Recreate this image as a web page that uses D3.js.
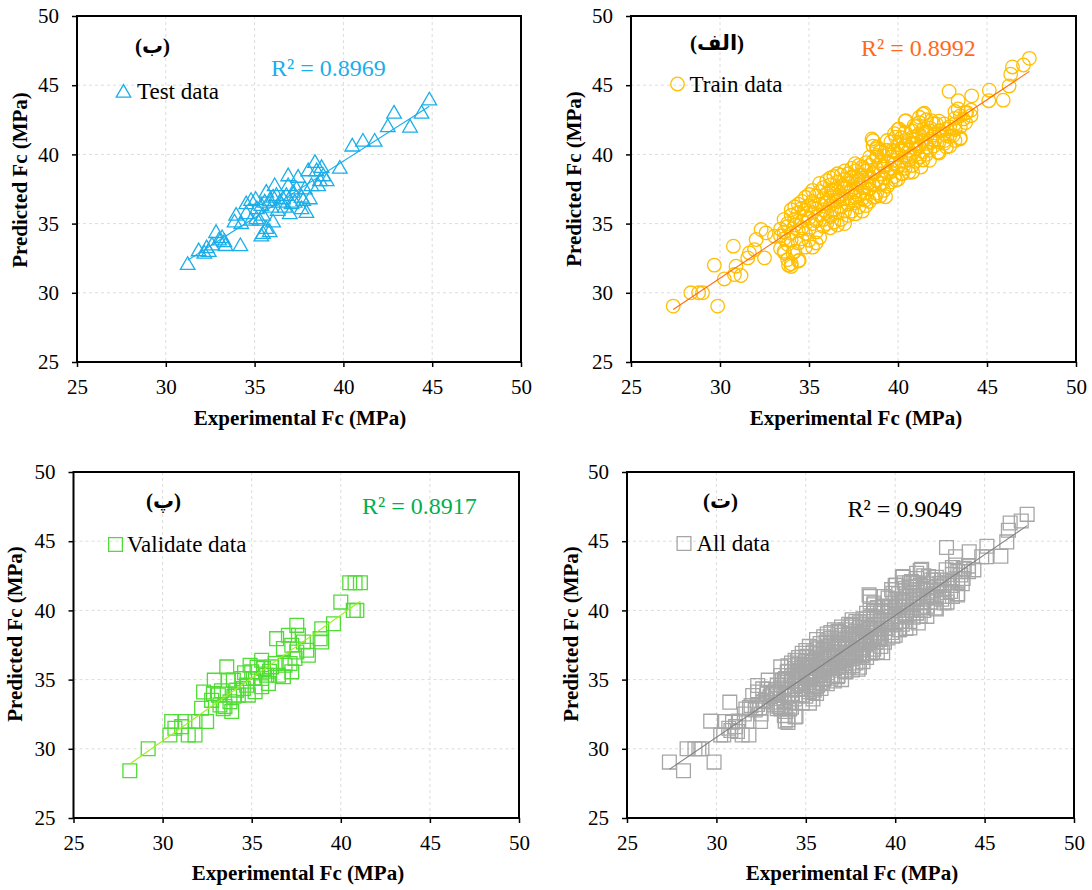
<!DOCTYPE html>
<html>
<head>
<meta charset="utf-8">
<script src="https://cdn.jsdelivr.net/npm/d3@7"></script>
<style>
  body { margin: 0; background: #fff; }
  svg { display: block; }
  text { font-family: 'Liberation Serif', 'Times New Roman', 'DejaVu Sans', serif; }
</style>
</head>
<body>
<svg id="chart" width="1092" height="890"></svg>
<script>
// axis ticks (same on every panel)
const xTicks = [25, 30, 35, 40, 45, 50];
const yTicks = [25, 30, 35, 40, 45, 50];
const gridTicks = [30, 35, 40, 45];

// [experimental, predicted]
const testPoints = [
  [31.23, 32.0], [31.85, 32.98], [32.17, 32.81], [32.42, 32.93], [32.3, 33.2], [32.6, 33.4],
  [32.83, 34.3], [33.0, 33.76], [33.17, 33.93], [33.36, 33.36], [33.3, 33.64], [34.2, 33.35],
  [33.96, 35.55], [33.87, 35.07], [34.25, 34.95], [34.53, 35.67], [34.8, 35.2], [35.06, 36.69],
  [35.13, 36.02], [35.38, 36.26], [35.47, 35.55], [35.28, 35.19], [35.66, 37.21], [35.57, 36.5],
  [35.85, 36.62], [36.04, 36.86], [36.23, 36.98], [36.42, 36.5], [35.66, 34.6], [35.85, 34.36],
  [35.47, 34.24], [35.38, 34.05], [36.04, 35.07], [36.89, 38.4], [36.89, 37.69], [36.79, 36.98],
  [36.7, 36.14], [36.98, 35.67], [37.45, 38.29], [37.36, 37.45], [37.26, 36.5], [37.64, 36.86],
  [37.74, 36.62], [37.83, 37.45], [37.92, 35.75], [38.11, 36.74], [38.02, 38.76], [38.4, 39.36],
  [38.49, 38.76], [38.77, 39.0], [38.87, 38.4], [38.68, 38.05], [39.06, 38.05], [38.58, 37.69],
  [39.8, 38.95], [40.5, 40.55], [41.1, 40.9], [41.76, 40.9], [42.5, 41.95], [42.85, 42.93],
  [43.75, 41.92], [44.4, 42.93], [44.84, 43.88], [34.53, 36.38], [34.8, 36.62], [35.1, 35.3],
  [36.3, 35.9], [36.6, 36.74], [37.08, 36.38], [37.17, 37.21], [37.64, 36.02], [38.2, 37.69],
  [36.13, 37.69], [35.94, 36.14]
];

const trainPoints = [
  // lower tail
  [27.37, 29.04], [28.36, 30.0], [28.8, 30.0], [29.02, 30.0], [29.87, 29.04], [29.68, 32.0],
  [30.24, 31.0], [30.81, 31.32], [30.9, 31.92], [31.18, 31.25], [30.75, 33.37], [31.56, 32.52],
  [31.65, 32.88], [31.94, 33.12], [32.03, 33.85], [32.5, 32.52], [32.31, 34.57], [32.59, 34.33],
  [33.06, 34.09], [33.85, 32.0], [34.0, 31.9], [34.45, 32.35], [33.63, 32.88], [34.1, 32.88],
  // dense band
  [33.4, 33.2], [33.4, 34.1], [33.4, 34.6],
  [33.6, 33.0], [33.6, 33.9], [33.6, 35.3], [33.6, 34.4],
  [33.8, 32.4], [33.8, 33.5], [33.8, 34.8], [33.8, 35.0],
  [34.0, 32.1], [34.0, 33.8], [34.0, 34.3], [34.0, 35.6], [34.0, 36.0],
  [34.2, 33.0], [34.2, 34.9], [34.2, 35.3], [34.2, 36.2],
  [34.4, 32.3], [34.4, 33.6], [34.4, 34.5], [34.4, 35.8], [34.4, 36.4],
  [34.6, 33.9], [34.6, 34.7], [34.6, 35.2], [34.6, 36.1], [34.6, 36.6],
  [34.8, 33.3], [34.8, 34.3], [34.8, 35.5], [34.8, 36.0], [34.8, 36.9],
  [35.0, 33.8], [35.0, 34.6], [35.0, 35.4], [35.0, 36.3], [35.0, 37.1],
  [35.2, 33.3], [35.2, 35.0], [35.2, 35.8], [35.2, 36.6], [35.2, 37.4],
  [35.4, 33.6], [35.4, 34.4], [35.4, 35.2], [35.4, 36.1], [35.4, 37.0],
  [35.6, 34.0], [35.6, 35.6], [35.6, 36.4], [35.6, 37.3], [35.6, 37.9],
  [35.8, 34.8], [35.8, 35.3], [35.8, 36.0], [35.8, 36.8], [35.8, 37.6],
  [36.0, 35.0], [36.0, 35.8], [36.0, 36.5], [36.0, 37.2], [36.0, 38.1],
  [36.2, 34.7], [36.2, 35.5], [36.2, 36.3], [36.2, 37.0], [36.2, 37.8], [36.2, 38.3],
  [36.4, 35.1], [36.4, 36.0], [36.4, 36.7], [36.4, 37.5], [36.4, 38.4],
  [36.6, 34.9], [36.6, 35.8], [36.6, 36.6], [36.6, 37.3], [36.6, 38.0], [36.6, 38.6],
  [36.8, 35.3], [36.8, 36.2], [36.8, 37.0], [36.8, 37.7], [36.8, 38.5],
  [37.0, 35.0], [37.0, 35.9], [37.0, 36.8], [37.0, 37.5], [37.0, 38.2], [37.0, 38.8],
  [37.2, 35.6], [37.2, 36.4], [37.2, 37.2], [37.2, 37.9], [37.2, 38.6],
  [37.4, 35.9], [37.4, 36.7], [37.4, 37.5], [37.4, 38.3], [37.4, 39.0],
  [37.6, 35.7], [37.6, 36.5], [37.6, 37.3], [37.6, 38.0], [37.6, 38.8],
  [37.8, 36.2], [37.8, 37.0], [37.8, 37.8], [37.8, 38.5], [37.8, 39.2],
  [38.0, 35.9], [38.0, 36.8], [38.0, 37.6], [38.0, 38.3], [38.0, 39.1],
  [38.2, 36.3], [38.2, 37.2], [38.2, 38.0], [38.2, 38.8], [38.2, 39.4],
  [38.4, 36.6], [38.4, 37.5], [38.4, 38.4], [38.4, 39.2], [38.4, 39.8],
  [38.6, 36.9], [38.6, 37.8], [38.6, 38.7], [38.6, 39.5], [38.6, 40.6], [38.6, 41.0],
  [38.8, 37.2], [38.8, 38.1], [38.8, 39.0], [38.8, 39.8], [38.8, 40.4],
  [39.0, 37.0], [39.0, 37.9], [39.0, 38.6], [39.0, 39.4], [39.0, 40.2],
  [39.2, 37.4], [39.2, 38.3], [39.2, 39.1], [39.2, 39.9],
  [39.4, 37.7], [39.4, 38.7], [39.4, 39.5], [39.4, 40.3],
  [39.6, 38.0], [39.6, 39.0], [39.6, 39.8], [39.6, 40.9],
  [39.8, 38.4], [39.8, 39.3], [39.8, 40.2], [39.8, 41.5],
  [40.0, 38.2], [40.0, 39.1], [40.0, 40.0], [40.0, 40.7], [40.0, 41.8],
  [40.2, 38.6], [40.2, 39.5], [40.2, 40.4], [40.2, 41.2],
  [40.4, 39.0], [40.4, 39.8], [40.4, 40.6], [40.4, 41.6], [40.4, 42.4],
  [40.6, 38.7], [40.6, 39.6], [40.6, 40.3], [40.6, 41.0],
  [40.8, 39.2], [40.8, 40.0], [40.8, 40.8], [40.8, 41.7],
  [41.0, 39.5], [41.0, 40.4], [41.0, 41.3], [41.0, 42.0],
  [41.2, 39.8], [41.2, 40.6], [41.2, 41.5], [41.2, 42.3],
  [41.4, 39.6], [41.4, 40.2], [41.4, 41.0], [41.4, 41.8], [41.4, 42.9],
  [41.6, 40.0], [41.6, 40.8], [41.6, 41.6], [41.6, 42.5],
  [41.8, 40.3], [41.8, 41.1], [41.8, 41.9],
  [42.0, 40.6], [42.0, 41.4], [42.0, 42.2],
  [42.3, 40.1], [42.3, 40.9], [42.3, 41.7], [42.3, 42.4],
  [42.6, 40.8], [42.6, 41.5], [42.6, 42.2],
  [42.9, 40.6], [42.9, 41.3], [42.9, 42.0],
  [43.2, 41.0], [43.2, 41.8], [43.2, 42.6], [43.2, 43.1],
  [43.5, 41.2], [43.5, 42.0], [43.5, 42.8],
  [43.8, 42.3], [43.8, 43.0], [44.1, 42.8], [44.1, 43.2],
  // upper part
  [47.38, 46.94], [47.05, 46.46], [46.43, 46.32], [46.33, 45.79], [46.24, 44.95], [45.91, 43.92],
  [45.13, 44.64], [45.1, 43.88], [44.14, 44.23], [43.38, 43.88], [43.38, 43.28], [42.87, 44.55],
  [43.86, 43.04], [43.67, 42.56], [43.19, 42.2], [42.72, 41.84], [43.48, 41.12], [43.1, 41.36],
  [41.48, 42.97], [41.86, 42.44], [42.15, 42.2], [42.34, 41.72], [41.2, 42.68], [40.44, 42.44],
  [40.06, 41.84], [39.87, 41.24], [40.91, 42.08], [40.82, 41.24], [41.39, 41.48], [41.77, 41.72],
  [42.05, 41.0], [42.62, 41.0], [42.72, 40.53], [42.24, 40.17], [41.58, 40.53], [41.01, 40.77],
  [40.44, 40.77], [40.25, 40.29], [40.63, 39.81], [41.2, 39.81], [41.77, 39.57], [41.29, 39.09],
  [40.82, 38.73], [40.34, 39.21], [38.54, 41.12], [38.82, 40.53], [38.82, 39.93], [39.39, 41.0],
  [39.3, 40.29], [39.68, 40.29], [39.77, 39.57], [39.2, 39.21], [38.63, 38.61], [38.06, 38.97],
  [37.59, 39.33], [38.35, 37.9], [39.11, 37.9], [39.87, 38.13], [40.25, 38.61], [39.58, 38.73],
  [37.78, 38.13], [37.4, 38.37], [37.02, 37.66], [36.65, 36.94], [36.27, 37.42], [35.87, 36.47],
  [38.73, 36.94], [39.3, 36.94], [38.16, 36.7], [37.59, 36.94]
];

const validatePoints = [
  [28.16, 28.42], [29.19, 30.0], [30.41, 31.0], [30.51, 31.97], [30.69, 31.49], [31.07, 31.6],
  [31.25, 31.97], [31.44, 31.0], [31.82, 31.0], [31.82, 31.97], [32.47, 31.97], [32.19, 32.93],
  [32.85, 34.0], [32.9, 34.96], [33.13, 33.88], [33.22, 33.17], [33.5, 33.05], [33.6, 35.92],
  [33.88, 32.69], [33.78, 33.4], [33.69, 34.96], [33.97, 34.96], [34.16, 34.24], [34.25, 33.88],
  [34.44, 35.08], [34.53, 34.36], [34.72, 34.6], [34.91, 36.04], [35.0, 35.56], [35.09, 35.08],
  [35.19, 34.12], [34.81, 33.88], [35.56, 36.4], [35.66, 35.8], [35.56, 35.08], [35.56, 34.48],
  [35.84, 35.32], [35.94, 34.72], [36.12, 35.92], [36.31, 36.16], [36.5, 35.32], [36.78, 35.2],
  [36.87, 36.04], [36.4, 37.96], [36.78, 37.24], [37.06, 38.2], [37.25, 37.48], [37.53, 38.92],
  [37.62, 38.2], [37.15, 36.16], [37.43, 36.52], [37.53, 37.0], [37.9, 37.72], [38.09, 37.12],
  [38.18, 36.76], [37.25, 35.56], [38.93, 38.68], [38.84, 37.96], [38.93, 37.72], [39.59, 39.04],
  [40.0, 40.6], [40.5, 42.0], [40.8, 42.0], [41.1, 42.0], [40.7, 40.0], [40.9, 40.0],
  [32.3, 34.1], [32.75, 33.5], [33.4, 32.9], [34.0, 33.8], [33.3, 34.2], [34.6, 35.5],
  [35.3, 35.9], [36.0, 35.6]
];

// "All data" is the three sets together
const allPoints = trainPoints.concat(testPoints, validatePoints);

const panelLabels = ['(ب)', '(الف)', '(پ)', '(ت)'];
const legendNames = ['Test data', 'Train data', 'Validate data', 'All data'];
const r2Labels = ['R² = 0.8969', 'R² = 0.8992', 'R² = 0.8917', 'R² = 0.9049'];
// linear trendline: [slope, intercept]
const fitLines = [[0.818, 6.8], [0.86, 5.25], [0.909, 3.3], [0.88, 4.43]];

const panels = [
  { data: testPoints, fit: fitLines[0], shape: d3.symbolTriangle, size: 92,
    color: '#1aaeea', lineColor: '#1aaeea', r2Color: '#1aaeea',
    box: [77, 521, 16, 362], yTitle: [27, 180], xTitle: [300, 425],
    label: [135, 53], legMark: [123.5, 93], legText: [137, 98.5], r2: [271, 76] },
  { data: trainPoints, fit: fitLines[1], shape: d3.symbolCircle, size: 145,
    color: '#ffbf00', lineColor: '#ff6a10', r2Color: '#ff6a1a',
    box: [631, 1076, 16, 362], yTitle: [581, 179], xTitle: [856, 425],
    label: [690, 49.5], legMark: [677.5, 84], legText: [689.5, 92], r2: [861, 56] },
  { data: validatePoints, fit: fitLines[2], shape: d3.symbolSquare, size: 190,
    color: '#4fdc34', lineColor: '#9cf01e', r2Color: '#00b050',
    box: [73.5, 519, 472, 818], yTitle: [22, 634], xTitle: [298, 880],
    label: [146, 508], legMark: [115.5, 544.5], legText: [127, 552], r2: [362, 514] },
  { data: allPoints, fit: fitLines[3], shape: d3.symbolSquare, size: 190,
    color: '#a6a6a6', lineColor: '#808080', r2Color: '#000',
    box: [627, 1074, 472, 818], yTitle: [578, 634], xTitle: [852, 880],
    label: [703, 508], legMark: [684, 543.5], legText: [696.5, 551], r2: [847.5, 517] }
];

const svg = d3.select('#chart');

panels.forEach((p, i) => {
  const [left, right, top, bottom] = p.box;
  const x = d3.scaleLinear().domain([25, 50]).range([left, right]);
  const y = d3.scaleLinear().domain([25, 50]).range([bottom, top]);
  const g = svg.append('g');

  // dashed grid
  g.selectAll('.vg').data(gridTicks).enter().append('line')
    .attr('x1', d => x(d)).attr('x2', d => x(d))
    .attr('y1', top).attr('y2', bottom)
    .attr('stroke', '#dcdcdc').attr('stroke-dasharray', '3,3');
  g.selectAll('.hg').data(gridTicks).enter().append('line')
    .attr('x1', left).attr('x2', right)
    .attr('y1', d => y(d)).attr('y2', d => y(d))
    .attr('stroke', '#dcdcdc').attr('stroke-dasharray', '3,3');

  // axes
  const xAxis = g.append('g')
    .attr('transform', `translate(0, ${ bottom })`)
    .call(d3.axisBottom(x).tickValues(xTicks).tickSize(5).tickPadding(12).tickFormat(d3.format('d')));
  const yAxis = g.append('g')
    .attr('transform', `translate(${ left }, 0)`)
    .call(d3.axisLeft(y).tickValues(yTicks).tickSize(5).tickPadding(13).tickFormat(d3.format('d')));
  [xAxis, yAxis].forEach(a => {
    a.select('.domain').remove();
    a.selectAll('line').attr('stroke', '#000').attr('stroke-width', 1.5);
    a.selectAll('text')
      .attr('fill', '#000')
      .style('font-family', "'Liberation Serif', serif")
      .style('font-size', '21px');
  });

  // markers
  const sym = d3.symbol().type(p.shape).size(p.size);
  g.append('g').selectAll('path')
    .data(p.data)
    .enter()
    .append('path')
    .attr('d', sym)
    .attr('transform', d => `translate(${ x(d[0]) }, ${ y(d[1]) })`)
    .attr('fill', 'none')
    .attr('stroke', p.color)
    .attr('stroke-width', 1.3);

  // trendline over the data range
  const ext = d3.extent(p.data, d => d[0]);
  g.append('line')
    .attr('x1', x(ext[0])).attr('y1', y(p.fit[0] * ext[0] + p.fit[1]))
    .attr('x2', x(ext[1])).attr('y2', y(p.fit[0] * ext[1] + p.fit[1]))
    .attr('stroke', p.lineColor).attr('stroke-width', 1.1);

  // plot frame
  g.append('rect')
    .attr('x', left).attr('y', top)
    .attr('width', right - left).attr('height', bottom - top)
    .attr('fill', 'none').attr('stroke', '#000').attr('stroke-width', 2);

  // titles
  g.append('text')
    .attr('transform', `translate(${ p.yTitle[0] }, ${ p.yTitle[1] }) rotate(-90)`)
    .attr('text-anchor', 'middle')
    .style('font-size', '21px').style('font-weight', 'bold')
    .text('Predicted Fc (MPa)');
  g.append('text')
    .attr('x', p.xTitle[0]).attr('y', p.xTitle[1])
    .attr('text-anchor', 'middle')
    .style('font-size', '21px').style('font-weight', 'bold')
    .text('Experimental Fc (MPa)');

  // panel letter
  g.append('text')
    .attr('x', p.label[0]).attr('y', p.label[1])
    .style('font-size', '21px').style('font-weight', 'bold')
    .text(panelLabels[i]);

  // legend
  g.append('path')
    .attr('d', sym)
    .attr('transform', `translate(${ p.legMark[0] }, ${ p.legMark[1] })`)
    .attr('fill', 'none').attr('stroke', p.color).attr('stroke-width', 1.3);
  g.append('text')
    .attr('x', p.legText[0]).attr('y', p.legText[1])
    .style('font-size', '23px')
    .text(legendNames[i]);

  // R squared
  g.append('text')
    .attr('x', p.r2[0]).attr('y', p.r2[1])
    .attr('fill', p.r2Color)
    .style('font-size', '24px')
    .text(r2Labels[i]);
});
</script>
</body>
</html>
